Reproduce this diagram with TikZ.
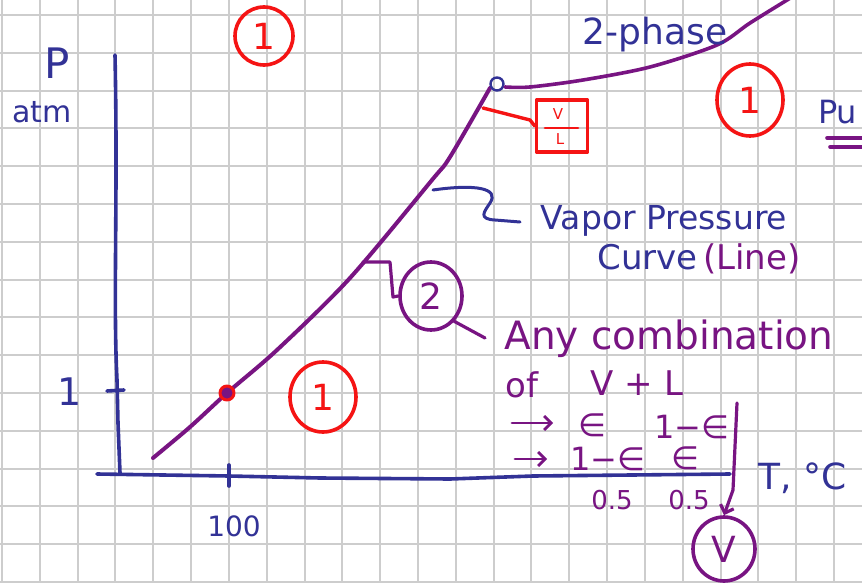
\documentclass[tikz,border=0pt]{standalone}
\usepackage{fontspec}
\setmainfont{DejaVu Sans}
\usetikzlibrary{arrows.meta,shapes.geometric}
\definecolor{ink}{RGB}{50,50,150}
\definecolor{pur}{RGB}{120,20,130}
\definecolor{rd}{RGB}{245,20,20}
\definecolor{grd}{RGB}{205,205,205}
\begin{document}
\begin{tikzpicture}[x=1pt,y=-1pt,line cap=round,line join=round,
  blueline/.style={draw=ink,line width=3.6pt},
  purline/.style={draw=pur,line width=3.6pt},
  redline/.style={draw=rd,line width=3.4pt},
  txt/.style={inner sep=0pt,font=\fontsize{#1}{#1}\selectfont},
  bluetxt/.style={txt=#1,text=ink},
  purtxt/.style={txt=#1,text=pur},
  redring/.style={ellipse,draw=rd,line width=3.6pt,text=rd,inner sep=0pt,font=\fontsize{36}{36}\selectfont},
  purring/.style={ellipse,draw=pur,line width=3.6pt,text=pur,inner sep=0pt,font=\fontsize{36}{36}\selectfont},
  barb/.style={-{Straight Barb[length=7pt,width=14pt]}}]
\useasboundingbox (0,0) rectangle (862,583);
\fill[white] (0,0) rectangle (862,583);
% grid
\foreach \k in {0,...,22} \draw[grd,line width=2pt] ({2+37.82*\k},0) -- ({2+37.82*\k},583);
\foreach \k in {0,...,15} \draw[grd,line width=2pt] (0,{15+37.8*\k}) -- (862,{15+37.8*\k});
% axes
\coordinate (ytop) at (115,55);
\coordinate (origin) at (120,473);
\coordinate (xstart) at (97,474);
\coordinate (xend) at (730,474);
\draw[blueline] (ytop) .. controls (118,200) and (113,300) .. (117,380) -- (118,423) -- (origin);
\draw[blueline] (xstart) -- (229,476) -- (320,478) -- (450,479) -- (533,476) -- (xend);
\coordinate (yt1) at (107,391); \coordinate (yt2) at (124,390);
\draw[blueline] (yt1) -- (yt2);
\coordinate (xt1) at (229,465); \coordinate (xt2) at (229,486);
\draw[blueline] (xt1) -- (xt2);
\node[bluetxt=42] (plab) at (57,63) {P};
\node[bluetxt=30] (atm) at (42,112) {atm};
\node[bluetxt=38] (one) at (70,392) {1};
\node[bluetxt=28] (hund) at (234,526) {100};
\node[bluetxt=36,anchor=west] (tlab) at (758,478) {T,\,\,°C};
\node[bluetxt=32,anchor=west] (pu) at (818,112) {Pu};
\coordinate (u1) at (827,138); \coordinate (u2) at (866,138);
\coordinate (u3) at (830,147); \coordinate (u4) at (866,147);
\draw[purline] (u1) -- (u2);
\draw[purline] (u3) -- (u4);
% vapor pressure curve
\draw[purline,line width=4pt] plot[smooth] coordinates {(153,458) (190,427) (227,393) (277,350) (350,278) (432,180) (450,157) (490,88)};
\node[circle,draw=rd,fill=pur,line width=3pt,minimum size=14pt,inner sep=0pt] (dot) at (227,393) {};
% critical point and 2-phase line
\node[circle,draw=ink,line width=2.4pt,minimum size=13pt,inner sep=0pt] (crit) at (497,84) {};
\draw[purline] plot[smooth] coordinates {(505,87) (530,87) (583,80) (650,67) (717,45) (750,23) (792,-3)};
\node[bluetxt=36] (twoph) at (655,35) {2-phase};
% red circled ones
\node[redring,minimum width=58pt,minimum height=58pt] (r1a) at (264,36) {1};
\node[redring,minimum width=66pt,minimum height=72pt] (r1b) at (750,100) {1};
\node[redring,minimum width=66pt,minimum height=70pt] (r1c) at (323,397) {1};
% V/L box
\node[draw=rd,line width=3.4pt,minimum width=51pt,minimum height=52pt,inner sep=0pt] (vlbox) at (562,126) {};
\node[txt=15,text=rd] (vv) at (558,114) {V};
\node[txt=15,text=rd] (ll) at (560,139) {L};
\coordinate (bar1) at (545,128); \coordinate (bar2) at (578,128);
\draw[redline,line width=2.8pt] (bar1) -- (bar2);
\coordinate (vlc) at (483,108);
\draw[redline] (vlc) -- (530,120) -- (vlbox.west);
% vapor pressure label
\coordinate (vpc) at (433,190);
\draw[blueline,line width=3pt] (vpc) .. controls (475,184) and (500,188) .. (490,203) .. controls (484,212) and (478,219) .. (495,220) -- (520,222);
\node[bluetxt=33] (vp1) at (664,221) {Vapor Pressure};
\node[bluetxt=34] (vp2) at (699,259) {Curve\,\textcolor{pur}{(Line)}};
% circled 2 and combination text
\node[purring,minimum width=62pt,minimum height=68pt] (c2) at (431,296) {2};
\coordinate (c2c) at (363,262);
\draw[purline,line width=3.2pt] (c2c) -- (390,262) -- (393,297) -- (c2.west);
\coordinate (anyc) at (485,338);
\draw[purline,line width=3.2pt] (c2.south east) -- (anyc);
\node[purtxt=39] (any) at (669,339) {Any combination};
\node[purtxt=34] (of) at (522,385) {of};
\node[purtxt=34] (vpl) at (637,383) {V\,\,+\,\,L};
\coordinate (a1s) at (512,423); \coordinate (a1e) at (553,423);
\coordinate (a2s) at (515,459); \coordinate (a2e) at (547,459);
\draw[purline,line width=2.8pt,barb] (a1s) -- (a1e);
\draw[purline,line width=2.8pt,barb] (a2s) -- (a2e);
\node[purtxt=32] (e1) at (592,425) {∈};
\node[purtxt=32] (e2) at (692,427) {1−∈};
\node[purtxt=32] (e3) at (608,459) {1−∈};
\node[purtxt=32] (e4) at (685,458) {∈};
\node[purtxt=26] (h1) at (612,500) {0.5};
\node[purtxt=26] (h2) at (689,500) {0.5};
\node[purring,minimum width=62pt,minimum height=64pt] (cv) at (724,549) {V};
\coordinate (vtop) at (737,403);
\draw[purline,line width=3.2pt,barb] (vtop) -- (733,490) -- (cv.north);
\end{tikzpicture}
\end{document}
